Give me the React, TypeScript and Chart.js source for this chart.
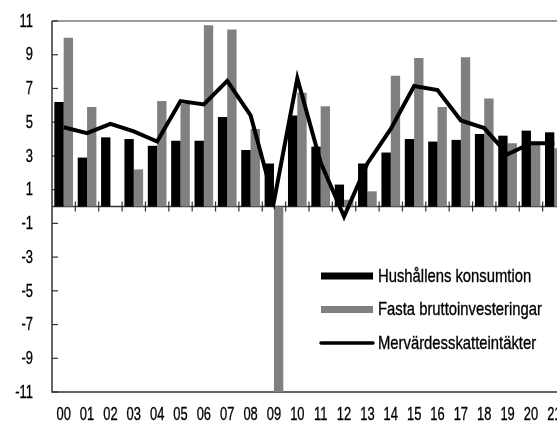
import React, { useEffect, useRef } from "react";
import { Chart, registerables } from "chart.js";

Chart.register(...registerables);

const categories = ["00", "01", "02", "03", "04", "05", "06", "07", "08", "09", "10", "11", "12", "13", "14", "15", "16", "17", "18", "19", "20", "21"];
const household = [6.2, 2.9, 4.1, 4.0, 3.6, 3.9, 3.9, 5.3, 3.35, 2.55, 5.4, 3.55, 1.3, 2.55, 3.2, 4.0, 3.85, 3.95, 4.3, 4.2, 4.5, 4.4];
const investment = [10.0, 5.9, 0, 2.2, 6.25, 6.1, 10.75, 10.5, 4.6, -11, 6.75, 5.95, 0.4, 0.9, 7.75, 8.8, 5.9, 8.85, 6.4, 3.75, 3.65, 3.45];
const vat = [4.7, 4.35, 4.9, 4.45, 3.85, 6.25, 6.05, 7.45, 5.4, 0.3, 7.6, 2.6, -0.6, 2.55, 4.6, 7.15, 6.9, 5.1, 4.65, 3.1, 3.75, 3.75];
const yTicks = [-11, -9, -7, -5, -3, -1, 1, 3, 5, 7, 9, 11];
const seriesNames = ["Hushållens konsumtion", "Fasta bruttoinvesteringar", "Mervärdesskatteintäkter"];

const FONT = "'Liberation Sans', Arial, sans-serif";

function narrowText(ctx: any, text: string, x: number, y: number, sx: number, align: string) {
  ctx.save();
  ctx.translate(x, y);
  ctx.scale(sx, 1);
  ctx.textAlign = align;
  ctx.textBaseline = "middle";
  ctx.fillText(text, 0, 0);
  ctx.lineWidth = 0.35;
  ctx.strokeStyle = "#000";
  ctx.strokeText(text, 0, 0);
  ctx.restore();
}

const framePlugin = {
  id: "frame",
  beforeDatasetsDraw(chart: any) {
    const { ctx, chartArea } = chart;
    const x = chart.scales.x;
    const y = chart.scales.y;
    const { left, right, top, bottom } = chartArea;
    const y0 = y.getPixelForValue(0);
    ctx.save();
    ctx.lineWidth = 1.5;
    ctx.strokeStyle = "#7a7a7a";
    ctx.beginPath();
    ctx.moveTo(left, top);
    ctx.lineTo(right, top);
    ctx.stroke();
    ctx.strokeStyle = "#333333";
    ctx.beginPath();
    ctx.moveTo(left, top);
    ctx.lineTo(left, bottom);
    ctx.lineTo(right, bottom);
    ctx.stroke();
    ctx.beginPath();
    ctx.moveTo(left, y0);
    ctx.lineTo(right, y0);
    ctx.stroke();
    ctx.lineWidth = 1.2;
    for (let i = 1; i < categories.length; i++) {
      const px = (x.getPixelForValue(i - 1) + x.getPixelForValue(i)) / 2;
      ctx.beginPath();
      ctx.moveTo(px, y0 - 5);
      ctx.lineTo(px, y0 + 5);
      ctx.stroke();
    }
    for (const v of yTicks) {
      const py = y.getPixelForValue(v);
      ctx.beginPath();
      ctx.moveTo(left, py);
      ctx.lineTo(left + 6, py);
      ctx.stroke();
    }
    ctx.restore();
  },
  afterDraw(chart: any) {
    const { ctx, chartArea } = chart;
    const x = chart.scales.x;
    const y = chart.scales.y;
    ctx.save();
    ctx.font = "19px " + FONT;
    ctx.fillStyle = "#000";
    categories.forEach((c, i) => narrowText(ctx, c, x.getPixelForValue(i), chartArea.bottom + 23, 0.68, "center"));
    yTicks.forEach((v) => narrowText(ctx, String(v), chartArea.left - 19, y.getPixelForValue(v) + 0.5, 0.68, "right"));
    const rows = [276, 309.5, 343];
    const x1 = 321;
    const x2 = 373;
    ctx.fillStyle = "#000000";
    ctx.fillRect(x1, rows[0] - 3.5, x2 - x1, 7);
    ctx.fillStyle = "#808080";
    ctx.fillRect(x1, rows[1] - 3.5, x2 - x1, 7);
    ctx.strokeStyle = "#000";
    ctx.lineWidth = 3.5;
    ctx.lineCap = "round";
    ctx.beginPath();
    ctx.moveTo(x1, rows[2]);
    ctx.lineTo(x2, rows[2]);
    ctx.stroke();
    ctx.fillStyle = "#000";
    seriesNames.forEach((n, i) => narrowText(ctx, n, 378, rows[i] + 0.5, 0.78, "left"));
    ctx.restore();
  },
};

export default function App() {
  const ref = useRef<HTMLCanvasElement | null>(null);
  useEffect(() => {
    if (!ref.current) return;
    const chart = new Chart(ref.current, {
      type: "bar",
      data: {
        labels: categories,
        datasets: [
          {
            type: "line",
            label: seriesNames[2],
            data: vat,
            borderColor: "#000",
            borderWidth: 4,
            pointRadius: 0,
            tension: 0,
            order: 0,
            borderJoinStyle: "miter",
          } as any,
          {
            label: seriesNames[0],
            data: household,
            backgroundColor: "#000000",
            categoryPercentage: 0.8,
            barPercentage: 1.0,
            order: 1,
          },
          {
            label: seriesNames[1],
            data: investment,
            backgroundColor: "#808080",
            categoryPercentage: 0.8,
            barPercentage: 1.0,
            order: 2,
          },
        ],
      },
      options: {
        animation: false,
        responsive: true,
        maintainAspectRatio: false,
        layout: { padding: { top: 21, right: 14, left: 0, bottom: 0 } },
        plugins: { legend: { display: false }, tooltip: { enabled: false } },
        scales: {
          x: {
            grid: { display: false, drawTicks: false },
            border: { display: false },
            ticks: { display: false },
            afterFit: (s: any) => { s.height = 32; },
          },
          y: {
            min: -11,
            max: 11,
            grid: { display: false, drawTicks: false },
            border: { display: false },
            ticks: { display: false },
            afterBuildTicks: (s: any) => { s.ticks = yTicks.map((v) => ({ value: v })); },
            afterFit: (s: any) => { s.width = 52; },
          },
        },
      },
      plugins: [framePlugin],
    });
    return () => chart.destroy();
  }, []);
  return (
    <div style={{ position: "fixed", left: 0, top: 0, width: 557, height: 424, overflow: "hidden", background: "#fff" }}>
      <div style={{ position: "absolute", left: 0, top: 0, width: 580, height: 424 }}>
        <canvas ref={ref} />
      </div>
    </div>
  );
}
